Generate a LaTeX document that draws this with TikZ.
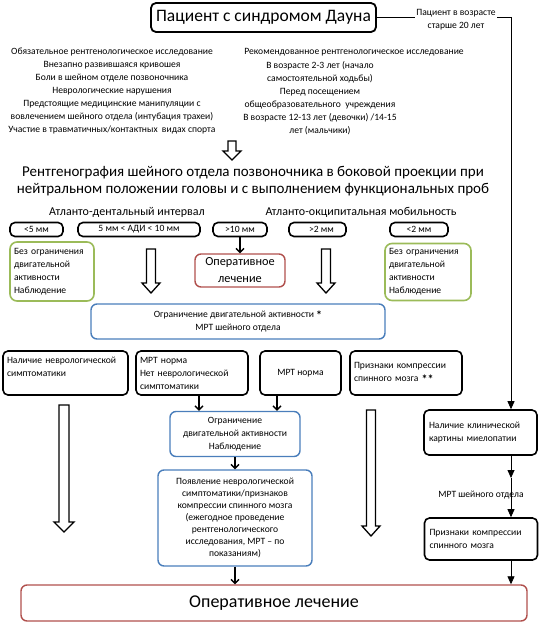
\documentclass[tikz,border=0pt]{standalone}
\usepackage{fontspec}
\setmainfont{Carlito}
\usetikzlibrary{arrows.meta}
\definecolor{gboxc}{HTML}{9BBB59}
\definecolor{rboxc}{HTML}{B0504D}
\definecolor{bboxc}{HTML}{4A7EBB}
\newcommand\hollowdown[6]{\draw[harrow] ({#1-#4},#2) -- ({#1+#4},#2) -- ({#1+#4},{#3-#6}) -- ({#1+#5},{#3-#6}) -- (#1,#3) -- ({#1-#5},{#3-#6}) -- ({#1-#4},{#3-#6}) -- cycle;}
\newcommand\mystar{{\fontsize{12}{13}\selectfont\bfseries\raisebox{-2.5pt}{*}}}
\begin{document}
\begin{tikzpicture}[x=1pt,y=-1pt,
  sm/.style={font=\fontsize{9.6}{13}\selectfont},
  blk/.style={draw=black, line width=1.6pt, rounded corners=5pt},
  sbox/.style={blk, sm, minimum height=14pt, inner sep=0pt},
  grn/.style={draw=gboxc, line width=1.6pt, rounded corners=7pt},
  redbox/.style={draw=rboxc, line width=1.4pt, rounded corners=6pt},
  bluebox/.style={draw=bboxc, line width=1.4pt, rounded corners=6pt},
  harrow/.style={draw=black, line width=1.3pt, fill=white, line join=miter},
  sarrow/.style={line width=1.3pt, -{Straight Barb[length=4pt,width=8pt]}},
  tarrow/.style={line width=0.8pt, -{Triangle[length=8pt,width=7pt]}}]
\useasboundingbox (0,0) rectangle (539,627);

\node[blk, line width=1.8pt, minimum width=225pt, minimum height=29pt, inner sep=0pt, font=\fontsize{17.5}{20}\selectfont] (title) at (263.5,17.5) {Пациент с синдромом Дауна};

\node[sm, align=center] (oblig) at (112,91.5) {Обязательное рентгенологическое исследование\\Внезапно развившаяся кривошея\\Боли в шейном отделе позвоночника\\Неврологические нарушения\\Предстоящие медицинские манипуляции с\\вовлечением шейного отдела (интубация трахеи)\\Участие в травматичных/контактных\ \ видах спорта};
\node[sm] (recomh) at (354,52) {Рекомендованное рентгенологическое исследование};
\node[sm, align=center] (recom) at (320,98.5) {В возрасте 2-3 лет (начало\\самостоятельной ходьбы)\\Перед посещением\\общеобразовательного\ \ учреждения\\В возрасте 12-13 лет (девочки) /14-15\\лет (мальчики)};

\hollowdown{232}{141}{160}{4}{9}{9}

\node[font=\fontsize{15}{17}\selectfont, align=center] (xray) at (253,181) {Рентгенография шейного отдела позвоночника в боковой проекции при\\нейтральном положении головы и с выполнением функциональных проб};

\node[font=\fontsize{12}{13}\selectfont] (adi) at (127,212) {Атланто-дентальный интервал};
\node[font=\fontsize{12}{13}\selectfont] (aom) at (361,212) {Атланто-окципитальная мобильность};

\node[sbox, minimum width=53pt] (b1) at (36.5,229.5) {<5 мм};
\node[sbox, minimum width=122pt] (b2) at (139,229.5) {5 мм < АДИ < 10 мм};
\node[sbox, minimum width=54pt] (b3) at (240,229.5) {>10 мм};
\node[sbox, minimum width=57pt] (b4) at (317.5,229.5) {\hspace*{8pt}>2 мм};
\node[sbox, minimum width=58pt] (b5) at (419,229.5) {<2 мм};

\node[grn, sm, align=left, text width=76pt, inner xsep=4pt, minimum height=59pt] (g1) at (52,271.5) {Без ограничения\\двигательной\\активности\\Наблюдение};
\node[grn, sm, align=left, text width=78pt, inner xsep=4pt, minimum height=57pt] (g2) at (428,272) {Без ограничения\\двигательной\\активности\\Наблюдение};

\node[redbox, font=\fontsize{12.3}{17}\selectfont, align=center, minimum width=90pt, minimum height=33pt, inner sep=0pt] (op1) at (240,270.5) {Оперативное\\лечение};
\draw[sarrow] (b3) -- (op1);

\hollowdown{151}{249}{293}{4.5}{9}{10}
\hollowdown{326}{249}{293}{4.5}{9}{10}

\node[bluebox, sm, align=center, minimum width=294pt, minimum height=35pt] (lim1) at (238,321.5) {Ограничение двигательной активности\ \mystar\\МРТ шейного отдела};

\node[blk, sm, align=left, text width=117pt, inner xsep=4pt, minimum height=44pt] (r1) at (65.5,373) {Наличие неврологической\\симптоматики\\\mbox{}};
\node[blk, sm, align=left, text width=104pt, inner xsep=4pt, minimum height=44pt] (r2) at (192,373) {МРТ норма\\Нет неврологической\\симптоматики};
\node[blk, sm, align=center, minimum width=81pt, minimum height=44pt] (r3) at (300.5,373) {МРТ норма};
\node[blk, sm, align=left, text width=104pt, inner xsep=4pt, minimum height=44pt] (r4) at (406,373) {Признаки компрессии\\спинного мозга\ \mystar\mystar};

\hollowdown{64}{405}{532}{5}{10}{10}
\hollowdown{371}{410}{536}{4.5}{9}{10}

\node[bluebox, sm, align=center, minimum width=130pt, minimum height=45pt, inner sep=0pt] (lim2) at (235,434) {Ограничение\\двигательной активности\\Наблюдение};
\node[bluebox, font=\fontsize{9.6}{12}\selectfont, align=center, minimum width=154pt, minimum height=96pt, inner sep=0pt] (lim3) at (235,518) {Появление неврологической\\симптоматики/признаков\\компрессии спинного мозга\\(ежегодное проведение\\рентгенологического\\исследования, МРТ – по\\показаниям)};

\node[redbox, font=\fontsize{18}{20}\selectfont, minimum width=506pt, minimum height=36pt] (opf) at (274,603) {Оперативное лечение};

\draw[sarrow] (199,0 |- r2.south) -- (199,0 |- lim2.north);
\draw[sarrow] (277,0 |- r3.south) -- (277,0 |- lim2.north);
\draw[sarrow] (lim2.south) -- (lim3.north);
\draw[sarrow] (lim3.south) -- (lim3.south |- opf.north);

\node[blk, sm, align=left, text width=103pt, inner xsep=5pt, minimum height=45pt] (myel) at (480.5,432.5) {Наличие клинической\\картины миелопатии};
\node[blk, sm, align=left, text width=103pt, inner xsep=5pt, minimum height=42pt] (comp) at (481,539) {Признаки компрессии\\спинного мозга};
\coordinate (mid) at (511,478);

\draw[tarrow] (title.east) -- (511,0 |- title.east) -- (511,0 |- myel.north);
\node[sm, fill=white, align=center, inner sep=1pt] (age) at (456,19.5) {Пациент в возрасте\\старше 20 лет};
\draw[tarrow] (511,0 |- myel.south) -- (mid);
\draw[tarrow] (mid) -- (511,0 |- comp.north);
\draw[tarrow] (511,0 |- comp.south) -- (511,0 |- opf.north);
\node[sm] (mri) at (481,495) {МРТ шейного отдела};
\end{tikzpicture}
\end{document}
